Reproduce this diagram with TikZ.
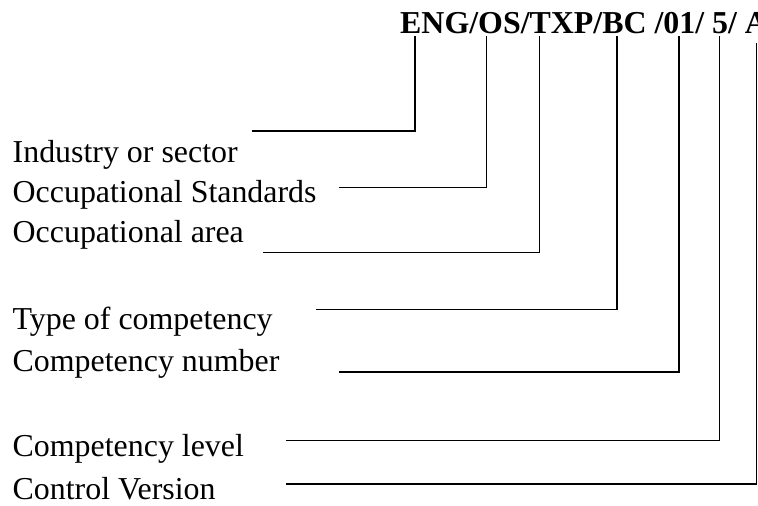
\documentclass[tikz,border=0pt]{standalone}
\usepackage{fontspec}
\setmainfont{Liberation Serif}
\usetikzlibrary{positioning}

\begin{document}
\begin{tikzpicture}[x=1pt,y=-1pt,
lab/.style={inner sep=0pt,anchor=base west,font=\fontsize{31.9pt}{38pt}\selectfont},
code/.style={inner sep=0pt,anchor=base west,font=\fontsize{31.9pt}{38pt}\selectfont\bfseries},
lead/.style={line width=1.4pt}]
\useasboundingbox (0,0) rectangle (758,506);
\node[code] (code) at (400,33.3) {ENG/OS/TXP/BC /01/ 5/ A};
% taps under the code
\coordinate (cENG) at ([xshift=15pt,yshift=-2.5pt]code.south west);
\coordinate (cOS) at ([xshift=86.7pt,yshift=-2.5pt]code.south west);
\coordinate (cTXP) at ([xshift=139.2pt,yshift=-2.5pt]code.south west);
\coordinate (cBC) at ([xshift=216.8pt,yshift=-2.5pt]code.south west);
\coordinate (cNum) at ([xshift=279pt,yshift=-2.5pt]code.south west);
\coordinate (cLev) at ([xshift=319.3pt,yshift=-2.5pt]code.south west);
\coordinate (cVer) at ([xshift=356.7pt,yshift=-9.5pt]code.south west);
% labels
\node[lab] (ind) at (12.5,162) {Industry or sector};
\node[lab] (ocs) at (12.5,202) {Occupational Standards};
\node[lab] (oca) at (12.5,242) {Occupational area};
\node[lab] (typ) at (12.5,329) {Type of competency};
\node[lab] (num) at (12.5,371.5) {Competency number};
\node[lab] (lev) at (12.5,456.5) {Competency level};
\node[lab] (ver) at (12.5,499) {Control Version};
% free ends of the leaders
\coordinate (sInd) at (251.7,130.8);
\coordinate (sOcs) at (339,187.5);
\coordinate (sOca) at (263,252.5);
\coordinate (sTyp) at (316,309.3);
\coordinate (sNum) at (339,372);
\coordinate (sLev) at (286,440.3);
\coordinate (sVer) at (286,483.8);
\draw[lead] (sInd) -| (cENG);
\draw[lead] (sOcs) -| (cOS);
\draw[lead] (sOca) -| (cTXP);
\draw[lead] (sTyp) -| (cBC);
\draw[lead] (sNum) -| (cNum);
\draw[lead] (sLev) -| (cLev);
\draw[lead] (sVer) -| (cVer);
\end{tikzpicture}
\end{document}
